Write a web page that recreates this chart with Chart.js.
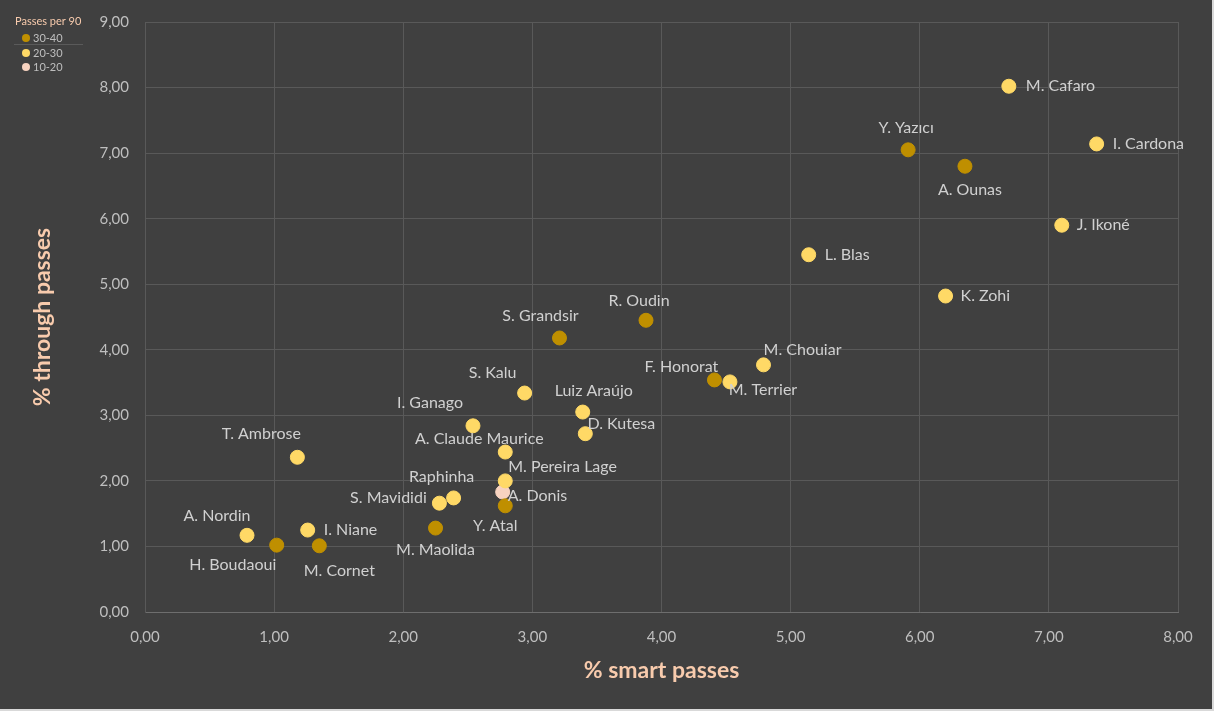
<!DOCTYPE html>
<html>
<head>
<meta charset="utf-8">
<script src="https://cdn.jsdelivr.net/npm/chart.js@4/dist/chart.umd.min.js"></script>
<style>
  html, body { margin: 0; padding: 0; background: #d9d9d9; }
  #wrap { position: absolute; left: 0; top: 0; width: 1212px; height: 709px; background: #404040; }
</style>
</head>
<body>
<div id="wrap"><canvas id="grafico"></canvas></div>
<script>
// ===== Dados =====
const jogadores = [
  'M. Cafaro', 'I. Cardona', 'Y. Yazıcı', 'A. Ounas', 'J. Ikoné', 'L. Blas', 'K. Zohi',
  'R. Oudin', 'S. Grandsir', 'M. Chouiar', 'F. Honorat', 'M. Terrier', 'S. Kalu',
  'Luiz Araújo', 'D. Kutesa', 'I. Ganago', 'A. Claude Maurice', 'T. Ambrose',
  'M. Pereira Lage', 'A. Donis', 'Y. Atal', 'Raphinha', 'S. Mavididi', 'M. Maolida',
  'A. Nordin', 'I. Niane', 'H. Boudaoui', 'M. Cornet'
];

const smartPasses = [
  6.69, 7.37, 5.91, 6.35, 7.10, 5.14, 6.20,
  3.88, 3.21, 4.79, 4.41, 4.53, 2.94,
  3.39, 3.41, 2.54, 2.79, 1.18,
  2.79, 2.77, 2.79, 2.39, 2.28, 2.25,
  0.79, 1.26, 1.02, 1.35
];

const throughPasses = [
  8.02, 7.14, 7.05, 6.80, 5.90, 5.45, 4.82,
  4.45, 4.18, 3.77, 3.54, 3.51, 3.34,
  3.05, 2.72, 2.84, 2.44, 2.36,
  2.00, 1.83, 1.62, 1.74, 1.66, 1.28,
  1.17, 1.25, 1.02, 1.01
];

// faixa de passes por 90
const faixa = [
  '20-30', '20-30', '30-40', '30-40', '20-30', '20-30', '20-30',
  '30-40', '30-40', '20-30', '30-40', '20-30', '20-30',
  '20-30', '20-30', '20-30', '20-30', '20-30',
  '20-30', '10-20', '30-40', '20-30', '20-30', '30-40',
  '20-30', '20-30', '30-40', '30-40'
];

const faixas = ['30-40', '20-30', '10-20'];
const coresFaixa = ['#bf8f00', '#ffd966', '#f8d3c0'];

// posição dos rótulos: dx, dy (px) e 'c' = centrado / 'l' = texto começa em dx
const posRotulo = [
  [17, 0, 'l'], [16, 0, 'l'], [-2, -22, 'c'], [5, 24, 'c'], [15, 0, 'l'], [16, 0, 'l'], [15, 0, 'l'],
  [-7, -19, 'c'], [-19, -22, 'c'], [39, -15, 'c'], [-33, -13, 'c'], [33, 8, 'c'], [-32, -20, 'c'],
  [11, -21, 'c'], [36, -10, 'c'], [-43, -23, 'c'], [-26, -13, 'c'], [-36, -23, 'c'],
  [3, -14, 'l'], [5, 4, 'l'], [-10, 20, 'c'], [-12, -21, 'c'], [-51, -5, 'c'], [0, 22, 'c'],
  [-30, -19, 'c'], [16, 0, 'l'], [-44, 20, 'c'], [20, 25, 'c']
];

const fmt = v => v.toFixed(2).replace('.', ',');

// ===== Datasets =====
const datasets = faixas.map((f, k) => ({
  label: f,
  data: jogadores
    .map((nome, i) => ({ x: smartPasses[i], y: throughPasses[i], nome, off: posRotulo[i], f: faixa[i] }))
    .filter(p => p.f === f),
  backgroundColor: coresFaixa[k],
  borderColor: coresFaixa[k],
  pointRadius: 7,
  pointHoverRadius: 7
}));

// ===== Plugins =====
const rotulos = {
  id: 'rotulos',
  afterDatasetsDraw(chart) {
    const c = chart.ctx;
    c.save();
    c.font = '16px Lato, "Open Sans", sans-serif';
    c.fillStyle = '#d0d0d0';
    c.textBaseline = 'middle';
    chart.data.datasets.forEach((ds, di) => {
      chart.getDatasetMeta(di).data.forEach((pt, i) => {
        const p = ds.data[i];
        c.textAlign = p.off[2] === 'l' ? 'left' : 'center';
        c.fillText(p.nome, pt.x + p.off[0], pt.y + p.off[1]);
      });
    });
    c.restore();
  }
};

const legenda = {
  id: 'legenda',
  afterDraw(chart) {
    const c = chart.ctx;
    c.save();
    c.font = '11px Lato, "Open Sans", sans-serif';
    c.textBaseline = 'middle';
    c.fillStyle = '#f8cbad';
    c.fillText('Passes per 90', 15, 21);
    c.strokeStyle = '#5a5a5a';
    c.lineWidth = 1;
    c.beginPath();
    c.moveTo(14, 44.5);
    c.lineTo(83, 44.5);
    c.stroke();
    const ys = [38, 53, 67];
    faixas.forEach((f, k) => {
      c.fillStyle = coresFaixa[k];
      c.beginPath();
      c.arc(26, ys[k], 4, 0, Math.PI * 2);
      c.fill();
      c.fillStyle = '#bfbfbf';
      c.fillText(f, 33, ys[k]);
    });
    c.restore();
  }
};

// ===== Gráfico =====
const ctx = document.getElementById('grafico');

new Chart(ctx, {
  type: 'scatter',
  data: { datasets },
  plugins: [rotulos, legenda],
  options: {
    responsive: true,
    maintainAspectRatio: false,
    animation: false,
    layout: { padding: { top: 22, right: 34, left: 0, bottom: 0 } },
    plugins: {
      legend: { display: false },
      tooltip: { enabled: false }
    },
    scales: {
      x: {
        type: 'linear',
        min: 0,
        max: 8,
        afterFit: s => { s.height = 97; },
        ticks: {
          stepSize: 1,
          padding: 16,
          color: '#bfbfbf',
          font: { family: 'Lato, "Open Sans", sans-serif', size: 15 },
          callback: v => fmt(v)
        },
        grid: { color: '#595959', lineWidth: 1, drawTicks: false },
        border: { color: '#6e6e6e', width: 1 },
        title: {
          display: true,
          text: '% smart passes',
          color: '#f8cbad',
          font: { family: 'Lato, "Open Sans", sans-serif', size: 23, weight: 'bold' },
          padding: { top: 0, bottom: 25 }
        }
      },
      y: {
        type: 'linear',
        min: 0,
        max: 9,
        afterFit: s => { s.width = 145; s.paddingTop = 0; s.paddingBottom = 0; },
        ticks: {
          stepSize: 1,
          padding: 16,
          color: '#bfbfbf',
          font: { family: 'Lato, "Open Sans", sans-serif', size: 15 },
          callback: v => fmt(v)
        },
        grid: { color: '#595959', lineWidth: 1, drawTicks: false },
        border: { color: '#595959', width: 1 },
        title: {
          display: true,
          text: '% through passes',
          color: '#f8cbad',
          font: { family: 'Lato, "Open Sans", sans-serif', size: 23, weight: 'bold' },
          padding: { top: 29, bottom: 0 }
        }
      }
    }
  }
});
</script>
</body>
</html>
